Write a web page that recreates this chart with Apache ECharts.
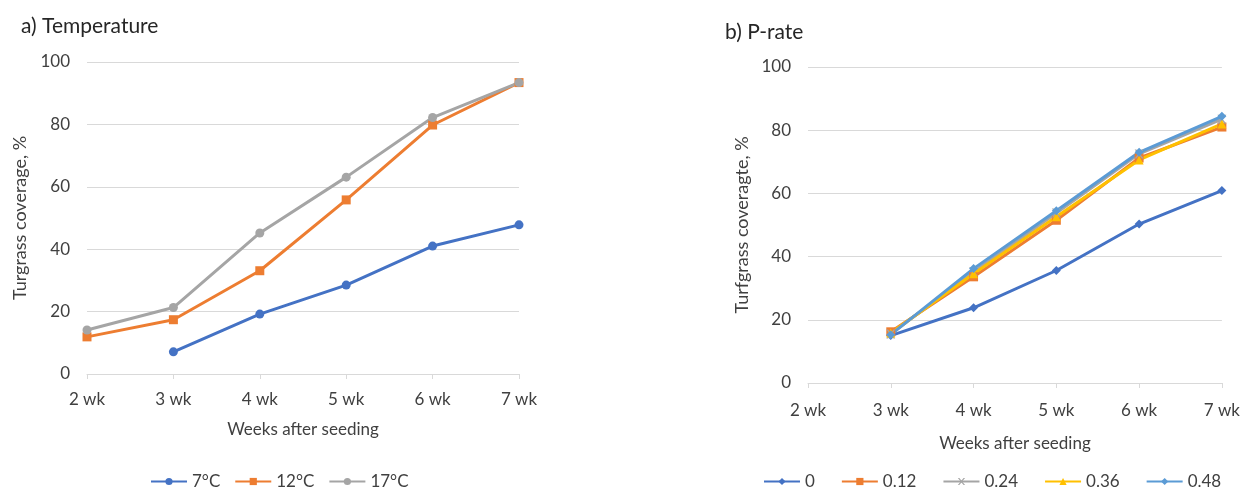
<!DOCTYPE html>
<html>
<head>
<meta charset="utf-8">
<script src="https://cdn.jsdelivr.net/npm/echarts@6/dist/echarts.min.js"></script>
<style>
  html, body { margin: 0; padding: 0; background: #fff; }
  #chart { width: 1243px; height: 490px; }
</style>
</head>
<body>
<div id="chart"></div>
<script>
const weeks = ['2 wk', '3 wk', '4 wk', '5 wk', '6 wk', '7 wk'];

// a) Temperature
const tempNames = ['7°C', '12°C', '17°C'];
const t7 = [null, 7.1, 19.2, 28.5, 41, 47.8];
const t12 = [11.9, 17.4, 33.1, 55.8, 79.8, 93.4];
const t17 = [14.1, 21.3, 45.2, 63.1, 82.2, 93.4];

// b) P-rate
const pNames = ['0', '0.12', '0.24', '0.36', '0.48'];
const p0 = [null, 15.0, 23.8, 35.6, 50.3, 60.9];
const p12 = [null, 16.2, 33.6, 51.5, 71.2, 81.0];
const p24 = [null, 15.5, 35.2, 53.8, 72.5, 83.5];
const p36 = [null, 15.8, 34.6, 52.6, 70.6, 82.0];
const p48 = [null, 15.3, 36.2, 54.5, 73.0, 84.4];

const yTicks = [0, 20, 40, 60, 80, 100];

const FONT = 'Lato';
const TXT = '#404040';
const BLUE = '#4472C4', ORANGE = '#ED7D31', GRAY = '#A5A5A5', YELLOW = '#FFC000', LBLUE = '#5B9BD5';

const chart = echarts.init(document.getElementById('chart'));

function line(name, data, color, symbol, idx) {
  return {
    name: name,
    type: 'line',
    data: data,
    xAxisIndex: idx,
    yAxisIndex: idx,
    symbol: symbol,
    symbolSize: 9,
    connectNulls: false,
    lineStyle: { color: color, width: 3 },
    itemStyle: { color: color },
  };
}

function xAx(idx, gap, margin) {
  return {
    gridIndex: idx,
    type: 'category',
    boundaryGap: false,
    data: weeks,
    name: 'Weeks after seeding',
    nameLocation: 'middle',
    nameGap: gap,
    nameTextStyle: { fontFamily: FONT, fontSize: 17, color: TXT },
    axisLine: { lineStyle: { color: '#D9D9D9' } },
    axisTick: { show: true, length: 5, lineStyle: { color: '#D9D9D9' } },
    axisLabel: { fontFamily: FONT, fontSize: 17, color: TXT, margin: margin },
  };
}

function yAx(idx, name, gap, margin) {
  return {
    gridIndex: idx,
    type: 'value',
    min: yTicks[0],
    max: yTicks[yTicks.length - 1],
    interval: 20,
    name: name,
    nameLocation: 'middle',
    nameGap: gap,
    nameTextStyle: { fontFamily: FONT, fontSize: 18, color: TXT },
    axisLine: { show: false },
    axisTick: { show: false },
    splitLine: { lineStyle: { color: '#D9D9D9' } },
    axisLabel: { fontFamily: FONT, fontSize: 17, color: TXT, margin: margin },
  };
}

const option = {
  animation: false,
  backgroundColor: '#fff',
  title: [
    { text: 'a) Temperature', left: 16, top: 11, textStyle: { fontFamily: FONT, fontSize: 21, fontWeight: 'normal', color: '#262626' } },
    { text: 'b) P-rate', left: 720, top: 17, textStyle: { fontFamily: FONT, fontSize: 21, fontWeight: 'normal', color: '#262626' } },
  ],
  grid: [
    { left: 87, top: 62, width: 432, height: 312 },
    { left: 808, top: 67, width: 418, height: 316 },
  ],
  legend: [
    {
      data: tempNames,
      left: 145, top: 468,
      itemWidth: 36, itemHeight: 9, itemGap: 14,
      textStyle: { fontFamily: FONT, fontSize: 17, color: TXT },
    },
    {
      data: pNames,
      left: 758, top: 468,
      itemWidth: 36, itemHeight: 9, itemGap: 26,
      textStyle: { fontFamily: FONT, fontSize: 17, color: TXT },
    },
  ],
  xAxis: [xAx(0, 47, 17), xAx(1, 52, 19)],
  yAxis: [yAx(0, 'Turgrass coverage, %', 58, 17), yAx(1, 'Turfgrass coveragte, %', 57, 17)],
  series: [
    line(tempNames[0], t7, BLUE, 'circle', 0),
    line(tempNames[1], t12, ORANGE, 'rect', 0),
    line(tempNames[2], t17, GRAY, 'circle', 0),
    line(pNames[0], p0, BLUE, 'diamond', 1),
    line(pNames[1], p12, ORANGE, 'rect', 1),
    line(pNames[2], p24, GRAY, 'path://M0,0 L2,0 L5,3 L8,0 L10,0 L6,4 L10,8 L8,8 L5,5 L2,8 L0,8 L4,4 Z', 1),
    line(pNames[3], p36, YELLOW, 'triangle', 1),
    line(pNames[4], p48, LBLUE, 'diamond', 1),
  ],
};

chart.setOption(option);
</script>
</body>
</html>
